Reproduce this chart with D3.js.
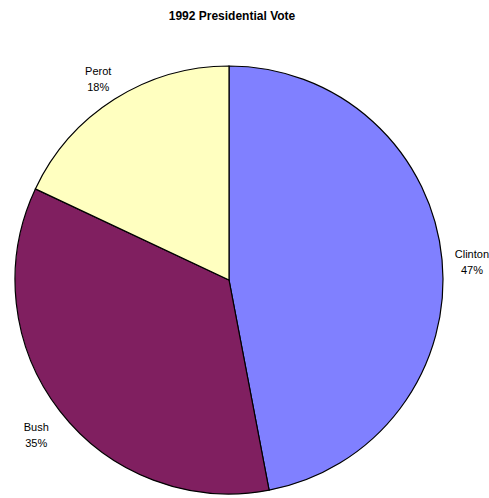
<!DOCTYPE html>
<html>
<head>
<meta charset="utf-8">
<script src="https://cdn.jsdelivr.net/npm/d3@7"></script>
<style>
  body { margin: 0; background: #fff; }
  text { font-family: "Liberation Sans", Arial, sans-serif; }
</style>
</head>
<body>
<svg width="489" height="498"></svg>
<script>
// data
var candidates = ['Clinton', 'Bush', 'Perot'];
var votes = [47, 35, 18];
var colors = ['#8080ff', '#801f60', '#ffffc0'];

var svg = d3.select('svg');
var cx = 229, cy = 280, r = 214;

svg.append('text')
  .attr('x', 232).attr('y', 20)
  .attr('text-anchor', 'middle')
  .attr('font-size', 12).attr('font-weight', 'bold')
  .text('1992 Presidential Vote');

var pie = d3.pie().sort(null).value(function (d) { return d; });
var arcs = pie(votes);
var arc = d3.arc().innerRadius(0).outerRadius(r);
var labelArc = d3.arc().innerRadius(244).outerRadius(244);

var g = svg.append('g').attr('transform', 'translate(' + cx + ',' + cy + ')');

g.selectAll('path').data(arcs).enter().append('path')
  .attr('d', arc)
  .attr('fill', function (d, i) { return colors[i]; })
  .attr('stroke', '#000').attr('stroke-width', 1.2);

var lab = g.selectAll('g.lab').data(arcs).enter().append('g')
  .attr('class', 'lab')
  .attr('transform', function (d) { return 'translate(' + labelArc.centroid(d) + ')'; });

lab.append('text')
  .attr('text-anchor', 'middle').attr('y', 1)
  .attr('font-size', 11)
  .text(function (d, i) { return candidates[i]; });
lab.append('text')
  .attr('text-anchor', 'middle').attr('y', 17)
  .attr('font-size', 11)
  .text(function (d) { return d.data + '%'; });
</script>
</body>
</html>
